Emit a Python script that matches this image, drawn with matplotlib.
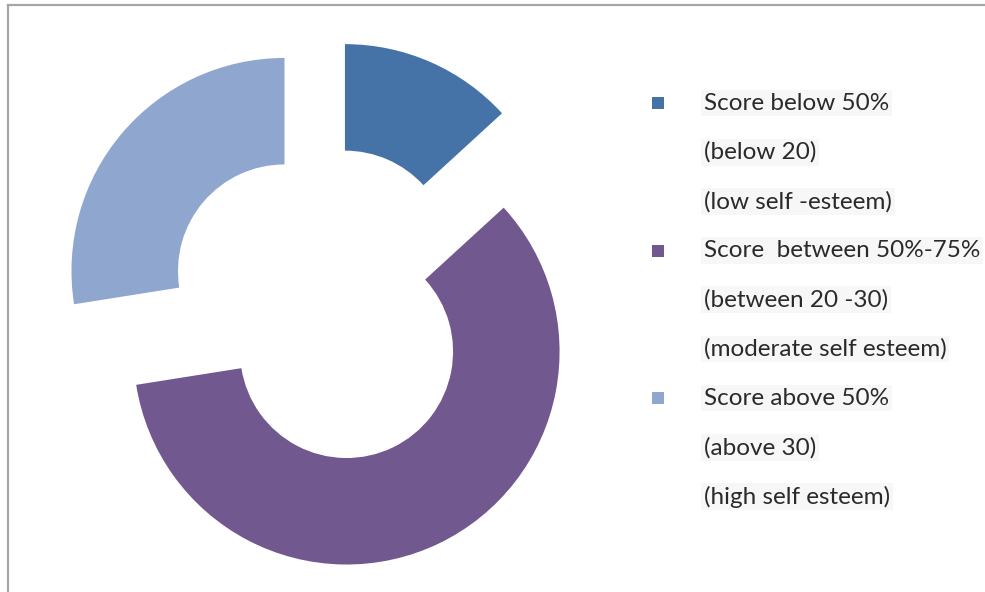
import matplotlib
matplotlib.use("Agg")
import matplotlib.pyplot as plt
from matplotlib.lines import Line2D
from matplotlib.patches import Rectangle

# share of respondents in each self-esteem band
shares = [13.2, 59.3, 27.5]
colors = ["#4572A7", "#71588F", "#8FA7CE"]
entries = [
    ["Score below 50%", "(below 20)", "(low self -esteem)"],
    ["Score  between 50%-75%", "(between 20 -30)", "(moderate self esteem)"],
    ["Score above 50%", "(above 30)", "(high self esteem)"],
]

W, H = 985, 592
fig = plt.figure(figsize=(W / 100, H / 100), dpi=100)
fig.patch.set_facecolor("white")

# axes over the whole figure, one data unit = outer radius (213 px)
R = 213.0
cx, cy = 324.0, 304.7
ax = fig.add_axes([0, 0, 1, 1])
ax.axis("off")

ax.pie(shares, colors=colors, startangle=90, counterclock=False,
       radius=1.0, explode=[0.244] * len(shares),
       wedgeprops=dict(width=0.5, edgecolor="none"))
ax.set_aspect("auto")
ax.set_xlim(-cx / R, (W - cx) / R)
ax.set_ylim(-(H - cy) / R, cy / R)

# legend drawn by hand: marker on first line of each entry
x_mark, x_text = 658, 704
y0, step = 103, 49.2
row = 0
for color, lines in zip(colors, entries):
    ym = y0 + row * step
    fig.patches.append(Rectangle(((x_mark - 6) / W, 1 - (ym + 6) / H), 12 / W, 12 / H,
                                 transform=fig.transFigure, facecolor=color,
                                 edgecolor="none"))
    for line in lines:
        y = y0 + row * step
        fig.text(x_text / W, 1 - y / H, line, fontsize=17.5, family="Lato",
                 color="#2a2a2a", ha="left", va="center",
                 bbox=dict(facecolor="#f7f7f7", edgecolor="none", pad=2))
        row += 1

# chart frame (only top and left edges fall inside the image)
fig.add_artist(Line2D([8 / W, 1], [1 - 5 / H, 1 - 5 / H], transform=fig.transFigure,
                      color="#a6a6a6", lw=1.6))
fig.add_artist(Line2D([8 / W, 8 / W], [0, 1 - 5 / H], transform=fig.transFigure,
                      color="#a6a6a6", lw=1.6))

fig.savefig("out.png", dpi=100)
